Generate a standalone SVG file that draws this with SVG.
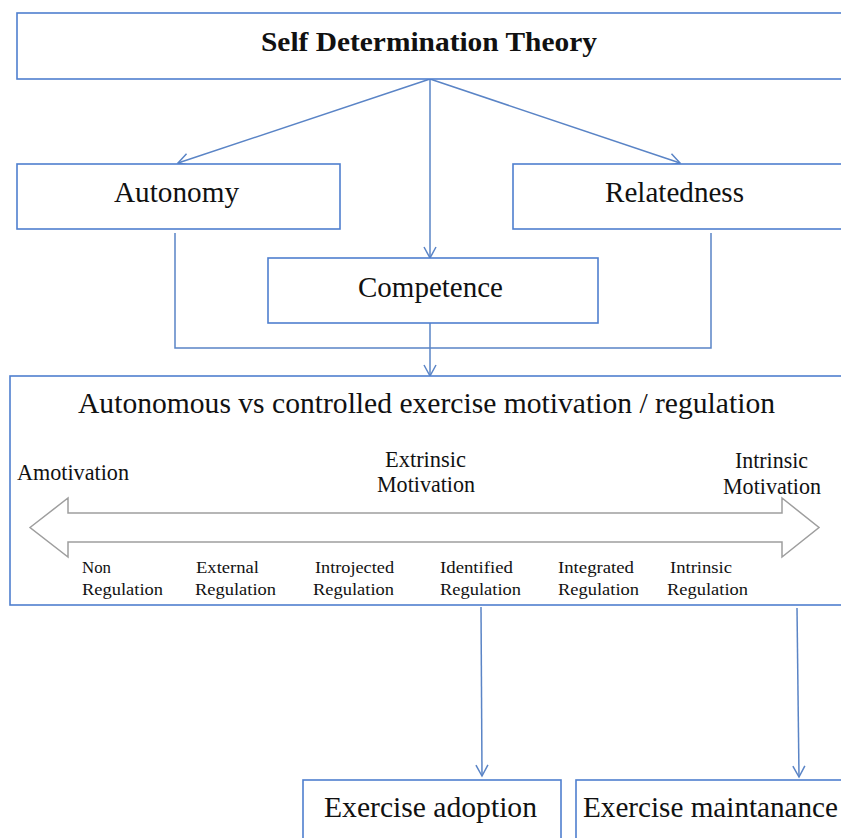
<svg xmlns="http://www.w3.org/2000/svg" width="841" height="838" viewBox="0 0 841 838">
  <defs>
    <style>
      .box { fill: #ffffff; stroke: #4f7fcf; stroke-width: 1.6; }
      .link { fill: none; stroke: #5a84c6; stroke-width: 1.5; }
      .t { fill: #111111; }
      .big { font-size: 29px; }
      .mid { font-size: 23px; }
      .small { font-size: 16px; }
    </style>
    <marker id="open" viewBox="0 0 14 14" refX="12" refY="7" markerWidth="14" markerHeight="14" markerUnits="userSpaceOnUse" orient="auto">
      <path d="M1,1 L12,7 L1,13" fill="none" stroke="#5a84c6" stroke-width="1.5"/>
    </marker>
  </defs>

  <rect width="841" height="838" fill="#ffffff"/>

  <!-- connectors -->
  <g id="connectors">
    <path class="link" d="M430,79 L178,163" marker-end="url(#open)"/>
    <path class="link" d="M430,79 L430,258" marker-end="url(#open)"/>
    <path class="link" d="M430,79 L680,163" marker-end="url(#open)"/>
    <path class="link" d="M175,233 L175,348 L711,348 L711,233"/>
    <path class="link" d="M430,323 L430,376" marker-end="url(#open)"/>
    <path class="link" d="M481,607 L482,776" marker-end="url(#open)"/>
    <path class="link" d="M797,608 L799,777" marker-end="url(#open)"/>
  </g>

  <g font-family="'Liberation Serif', Tinos, 'Times New Roman', 'DejaVu Serif', serif">
    <g id="sdt">
      <rect class="box" x="17" y="13" width="840" height="66"/>
      <text class="t" x="261" y="51" font-size="28" font-weight="bold" textLength="336" lengthAdjust="spacingAndGlyphs">Self Determination Theory</text>
    </g>

    <g id="autonomy">
      <rect class="box" x="17" y="164" width="323" height="65"/>
      <text class="t big" x="114" y="201.5" textLength="125" lengthAdjust="spacingAndGlyphs">Autonomy</text>
    </g>

    <g id="relatedness">
      <rect class="box" x="513" y="164" width="340" height="65"/>
      <text class="t big" x="605" y="201.5" textLength="139" lengthAdjust="spacingAndGlyphs">Relatedness</text>
    </g>

    <g id="competence">
      <rect class="box" x="268" y="258" width="330" height="65"/>
      <text class="t big" x="358" y="297" textLength="145" lengthAdjust="spacingAndGlyphs">Competence</text>
    </g>

    <g id="motivation">
      <rect class="box" x="10" y="376" width="845" height="229"/>
      <text class="t big" x="78" y="413" textLength="697" lengthAdjust="spacingAndGlyphs">Autonomous vs controlled exercise motivation / regulation</text>

      <text class="t mid" x="17" y="480" textLength="112" lengthAdjust="spacingAndGlyphs">Amotivation</text>
      <text class="t mid" x="385" y="467" textLength="81" lengthAdjust="spacingAndGlyphs">Extrinsic</text>
      <text class="t mid" x="377" y="492" textLength="98" lengthAdjust="spacingAndGlyphs">Motivation</text>
      <text class="t mid" x="735" y="468" textLength="73" lengthAdjust="spacingAndGlyphs">Intrinsic</text>
      <text class="t mid" x="723" y="494" textLength="98" lengthAdjust="spacingAndGlyphs">Motivation</text>

      <!-- continuum: hollow double-headed arrow -->
      <path d="M30,527.5 L68,498 L68,513 L782,513 L782,498 L819,527.5 L782,557 L782,542 L68,542 L68,557 Z" fill="#ffffff" stroke="#9e9e9e" stroke-width="1.5" stroke-linejoin="miter"/>

      <g class="t small">
        <text x="82" y="573" textLength="29" lengthAdjust="spacingAndGlyphs">Non</text>
        <text x="82" y="594.5" textLength="81" lengthAdjust="spacingAndGlyphs">Regulation</text>
        <text x="196" y="573" textLength="63" lengthAdjust="spacingAndGlyphs">External</text>
        <text x="195" y="594.5" textLength="81" lengthAdjust="spacingAndGlyphs">Regulation</text>
        <text x="315" y="573" textLength="79" lengthAdjust="spacingAndGlyphs">Introjected</text>
        <text x="313" y="594.5" textLength="81" lengthAdjust="spacingAndGlyphs">Regulation</text>
        <text x="440" y="573" textLength="73" lengthAdjust="spacingAndGlyphs">Identified</text>
        <text x="440" y="594.5" textLength="81" lengthAdjust="spacingAndGlyphs">Regulation</text>
        <text x="558" y="573" textLength="76" lengthAdjust="spacingAndGlyphs">Integrated</text>
        <text x="558" y="594.5" textLength="81" lengthAdjust="spacingAndGlyphs">Regulation</text>
        <text x="670" y="573" textLength="62" lengthAdjust="spacingAndGlyphs">Intrinsic</text>
        <text x="667" y="594.5" textLength="81" lengthAdjust="spacingAndGlyphs">Regulation</text>
      </g>
    </g>

    <g id="adoption">
      <rect class="box" x="303" y="780" width="258" height="70"/>
      <text class="t big" x="324" y="816.5" textLength="213" lengthAdjust="spacingAndGlyphs">Exercise adoption</text>
    </g>

    <g id="maintenance">
      <rect class="box" x="576" y="780" width="280" height="70"/>
      <text class="t big" x="583" y="816.5" textLength="255" lengthAdjust="spacingAndGlyphs">Exercise maintanance</text>
    </g>
  </g>
</svg>
